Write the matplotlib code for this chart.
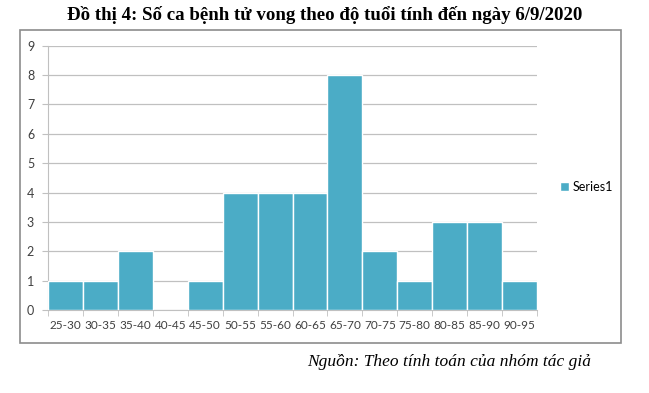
import numpy as np
import matplotlib
matplotlib.use('Agg')
from matplotlib import pyplot as plt
from matplotlib.patches import Rectangle

# age groups and number of deaths
age_groups = ['25-30', '30-35', '35-40', '40-45', '45-50', '50-55', '55-60',
              '60-65', '65-70', '70-75', '75-80', '80-85', '85-90', '90-95']
deaths = [1, 1, 2, 0, 1, 4, 4, 4, 8, 2, 1, 3, 3, 1]
y_ticks = list(range(0, 10))

title = 'Đồ thị 4: Số ca bệnh tử vong theo độ tuổi tính đến ngày 6/9/2020'
source = 'Nguồn: Theo tính toán của nhóm tác giả'

bar_color = '#4bacc6'
grid_color = '#c0c0c0'
tick_font = 'Lato'

fig = plt.figure(figsize=(6.49, 3.93), dpi=100)

# outer chart frame
fig.patches.append(Rectangle((0.0308, 0.1272), 0.926, 0.7964, transform=fig.transFigure,
                             fill=False, edgecolor='#8c8c8c', lw=1.2, zorder=0))

ax = fig.add_axes([0.074, 0.2112, 0.7534, 0.6725])
x = np.arange(len(age_groups))
ax.bar(x, deaths, width=1.0, color=bar_color, edgecolor='white', linewidth=1.0,
       label='Series1', zorder=3)

ax.set_xlim(-0.5, len(age_groups) - 0.5)
ax.set_ylim(0, 9)
ax.set_yticks(y_ticks)
ax.set_yticklabels([str(t) for t in y_ticks], fontsize=9, family=tick_font, color='#404040')
ax.yaxis.grid(True, color=grid_color, lw=0.9, zorder=0)

# category labels centered, tick marks on boundaries
ax.set_xticks(x)
ax.set_xticklabels(age_groups, fontsize=8.5, family=tick_font, color='#404040')
ax.tick_params(axis='x', length=0, pad=7)
ax.set_xticks(np.arange(-0.5, len(age_groups)), minor=True)
ax.tick_params(axis='x', which='minor', length=4, color=grid_color)
ax.tick_params(axis='y', length=4, color=grid_color, pad=6)

for s in ['top', 'right']:
    ax.spines[s].set_visible(False)
ax.spines['left'].set_color(grid_color)
ax.spines['bottom'].set_color(grid_color)

fig.legend(loc='center left', bbox_to_anchor=(0.846, 0.525), frameon=False,
           prop={'family': tick_font, 'size': 9}, handlelength=0.7, handleheight=0.7,
           handletextpad=0.3)

fig.text(0.5, 0.962, title, ha='center', va='center', fontsize=13.6,
         fontweight='bold', family='Liberation Serif')
fig.text(0.692, 0.079, source, ha='center', va='center', fontsize=12.5,
         style='italic', family='Liberation Serif')

plt.savefig('out.png', dpi=100)
